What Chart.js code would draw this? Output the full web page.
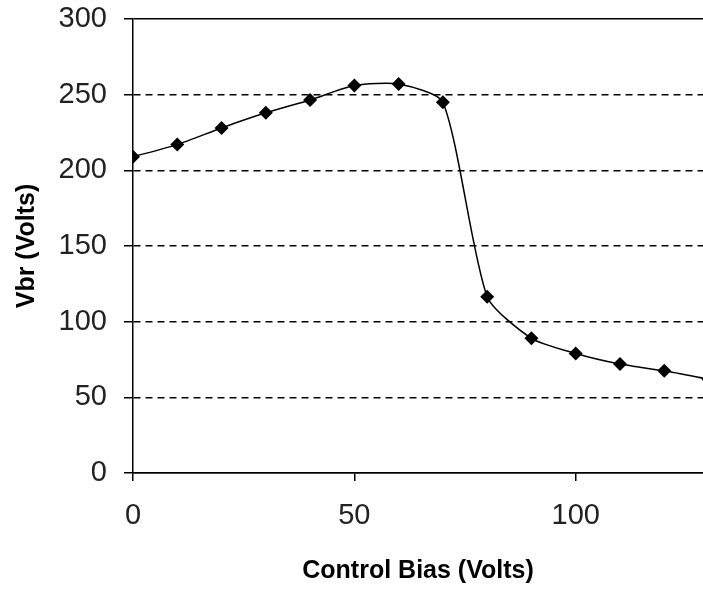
<!DOCTYPE html>
<html lang="en">
<head>
  <meta charset="UTF-8" />
  <title>Vbr vs Control Bias</title>
  <script src="https://cdn.jsdelivr.net/npm/chart.js"></script>
  <style>
    html, body { margin: 0; padding: 0; background: #fff; overflow: hidden; }
    #wrap { position: relative; width: 703px; height: 592px; }
    canvas { display: block; }
  </style>
</head>
<body>
  <div id="wrap"><canvas id="chart"></canvas></div>

  <script>
    // readings taken off the original plot
    const biasVolts = [0, 10, 20, 30, 40, 50, 60, 70, 80, 90, 100, 110, 120, 130];
    const vbrVolts = [209, 217, 228, 238, 246.5, 256, 257, 245, 116.5, 89, 79, 72, 67.5, 62];

    const xTitle = 'Control Bias (Volts)';
    const yTitle = 'Vbr (Volts)';

    const tickFont = { family: "'Liberation Sans', Arial, sans-serif", size: 29 };
    const titleFont = { family: "'Liberation Sans', Arial, sans-serif", size: 25, weight: 'bold' };

    new Chart(document.getElementById('chart'), {
      type: 'scatter',
      data: {
        datasets: [{
          data: biasVolts.map((x, i) => ({ x, y: vbrVolts[i] })),
          showLine: true,
          borderColor: '#000',
          backgroundColor: '#000',
          borderWidth: 1.5,
          tension: 0.22,
          pointStyle: 'rectRot',
          pointRadius: 7,
          pointBorderWidth: 0
        }]
      },
      options: {
        responsive: true,
        maintainAspectRatio: false,
        animation: false,
        layout: { autoPadding: false, padding: { top: 19, right: 0, bottom: 0, left: 0 } },
        plugins: { legend: { display: false }, tooltip: { enabled: false } },
        scales: {
          x: {
            type: 'linear',
            min: 0,
            max: 128.75,
            afterFit: s => { s.height = 119; s.paddingLeft = 0; s.paddingRight = 0; },
            ticks: { stepSize: 50, includeBounds: false, color: '#222', font: tickFont, padding: 18, maxRotation: 0 },
            grid: { drawOnChartArea: false, color: '#000', tickLength: 8, lineWidth: 1.5 },
            border: { color: '#000', width: 1.5 },
            title: { display: true, text: xTitle, color: '#000', font: titleFont, padding: { top: 0, bottom: 6 } }
          },
          y: {
            min: 0,
            max: 300,
            afterFit: s => { s.width = 133; s.paddingTop = 0; s.paddingBottom = 0; },
            ticks: { stepSize: 50, color: '#222', font: tickFont, padding: 17 },
            grid: {
              color: '#000',
              lineWidth: 1.5,
              tickLength: 9
            },
            border: {
              color: '#000',
              width: 1.5,
              dash: ctx => (ctx.tick && ctx.tick.value > 0 && ctx.tick.value < 300) ? [7, 5] : []
            },
            title: { display: true, text: yTitle, color: '#000', font: titleFont, padding: { top: 12, bottom: 0 } }
          }
        }
      }
    });
  </script>
</body>
</html>
